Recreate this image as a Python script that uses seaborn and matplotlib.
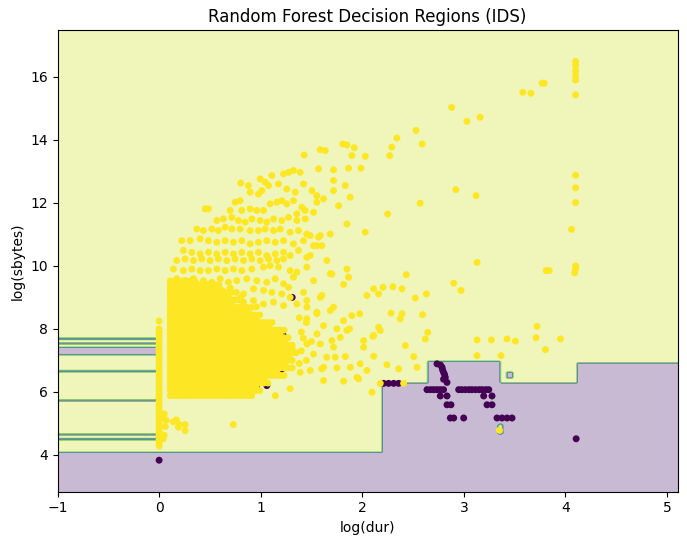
import numpy as np
import pandas as pd
import matplotlib
matplotlib.use("Agg")
import matplotlib.pyplot as plt
import seaborn as sns

# ---- data ----
# class 0 (attack) samples, dark purple
purple_pts = [
    (0.0, 3.83), (2.21, 6.27), (2.259, 6.27), (2.309, 6.27), (2.358, 6.27),
    (2.736, 6.89), (2.77, 6.85), (2.785, 6.78), (2.79, 6.7), (2.80, 6.62),
    (2.81, 6.55), (2.817, 6.46), (2.80, 6.40), (2.834, 6.30),
    (2.637, 6.07), (2.67, 6.07), (2.702, 6.07), (2.735, 6.07), (2.768, 6.07), (2.80, 6.07),
    (2.949, 6.07), (2.98, 6.07), (3.015, 6.07), (3.05, 6.07), (3.08, 6.07),
    (3.115, 6.07), (3.15, 6.07), (3.18, 6.07), (3.215, 6.07), (3.245, 6.07),
    (2.768, 5.87), (2.834, 5.87), (3.195, 5.87), (3.277, 5.87),
    (2.834, 5.59), (2.873, 5.59), (3.228, 5.59), (3.277, 5.59),
    (2.867, 5.17), (2.9, 5.17), (2.998, 5.17), (3.326, 5.17), (3.375, 5.17),
    (3.425, 5.17), (3.474, 5.17), (4.105, 4.51),
    (0.73, 7.79), (0.80, 7.79), (1.17, 7.82), (1.22, 7.8), (1.21, 6.73),
    (0.88, 6.2), (0.96, 6.2), (1.06, 6.2), (1.31, 9.0),
]

# class 1 (normal) samples, yellow
strip_y = [4.28, 4.38, 4.47, 4.56, 4.65, 4.74, 4.83, 4.92, 5.01, 5.1, 5.2, 5.3,
           5.4, 5.5, 5.6, 5.7, 5.8, 5.9, 6.0, 6.1, 6.2, 6.3, 6.4, 6.5, 6.6, 6.7,
           6.8, 6.9, 7.0, 7.1, 7.2, 7.3, 7.4, 7.5, 7.6, 7.7, 7.8, 7.9, 8.0, 8.25]

core_x = [0.11, 0.15, 0.19, 0.23, 0.27, 0.31, 0.35, 0.39, 0.43, 0.47, 0.51, 0.55,
          0.59, 0.63, 0.67, 0.71, 0.75, 0.79, 0.83, 0.87, 0.91, 0.95, 0.99, 1.03,
          1.07, 1.11, 1.15, 1.19, 1.23, 1.27, 1.31, 1.35]
core_row_y = [5.88, 6.04, 6.16, 6.28, 6.40, 6.52, 6.64, 6.76, 6.88, 7.00, 7.12,
              7.24, 7.36, 7.48, 7.60, 7.72, 7.84, 7.96, 8.08, 8.20, 8.32, 8.44,
              8.56, 8.68, 8.80, 8.92, 9.04, 9.16, 9.28, 9.40, 9.52]
core_row_end = [0.92, 1.0, 0.96, 1.10, 1.04, 1.24, 1.15, 1.31, 1.23, 1.33, 1.27,
                1.35, 1.31, 1.33, 1.23, 1.30, 1.19, 1.23, 1.07, 1.11, 0.95, 0.99,
                0.83, 0.91, 0.71, 0.79, 0.63, 0.71, 0.51, 0.59, 0.35]

near_zero_pts = [(0.04, 5.19), (0.07, 5.1), (0.14, 5.05), (0.17, 5.11), (0.2, 4.96),
                 (0.19, 4.88), (0.256, 4.96), (0.256, 4.77), (0.04, 4.51), (0.05, 4.62),
                 (0.06, 4.9), (0.73, 4.96), (0.05, 5.3)]

upper_pts = [
    (1.428, 13.52), (1.586, 13.69), (1.635, 13.66), (1.809, 13.87), (1.849, 13.84),
    (1.921, 13.75), (1.898, 13.50), (2.029, 13.48), (1.987, 13.10), (1.865, 13.10),
    (1.717, 13.05), (1.569, 13.08), (1.389, 12.97), (1.323, 13.03), (1.274, 12.97),
    (1.225, 12.92), (1.110, 12.87), (0.995, 12.76), (1.044, 12.66), (0.880, 12.55),
    (0.804, 12.63), (0.896, 12.34), (0.978, 12.28), (1.011, 12.39), (1.077, 12.55),
    (1.175, 12.60), (1.257, 12.44), (1.340, 12.34), (1.422, 12.60), (1.504, 12.39),
    (1.553, 12.23), (1.619, 12.13), (1.717, 12.71), (1.832, 12.55), (1.881, 12.18),
    (1.767, 11.91), (1.717, 12.39),
    (0.486, 11.81), (0.453, 11.81), (0.748, 12.02), (0.798, 12.07), (0.699, 11.76),
    (0.814, 11.76), (0.896, 11.81), (0.962, 11.76), (1.028, 11.76), (1.093, 11.97),
    (1.159, 12.02), (1.208, 12.07), (1.257, 11.97), (1.323, 12.07), (1.405, 11.86),
    (1.438, 11.76), (1.356, 11.65), (1.520, 11.70), (1.553, 12.02),
    (0.568, 11.44), (0.634, 11.49), (0.716, 11.54), (0.781, 11.44), (0.847, 11.39),
    (0.913, 11.49), (0.995, 11.44), (1.060, 11.39), (1.126, 11.49), (1.208, 11.44),
    (1.274, 11.54), (1.356, 11.44), (1.438, 11.49),
    (0.371, 11.17), (0.436, 11.12), (0.519, 11.17), (0.584, 11.12), (0.650, 11.23),
    (0.716, 11.17), (0.798, 11.17), (0.896, 11.12), (0.978, 11.12), (1.044, 11.17),
    (1.126, 11.12), (1.192, 11.17), (1.290, 11.07), (1.372, 11.12), (1.454, 11.01),
    (1.569, 10.91), (1.684, 11.01), (1.849, 11.33), (2.029, 11.07),
    (0.223, 10.80), (0.305, 10.80), (0.404, 10.86), (0.486, 10.80), (0.568, 10.75),
    (0.650, 10.80), (0.732, 10.75), (0.814, 10.80), (0.896, 10.70), (0.978, 10.75),
    (1.060, 10.80), (1.143, 10.75), (1.225, 10.80), (1.323, 10.70), (1.422, 10.80),
    (1.520, 10.64), (1.602, 10.64),
    (0.239, 10.49), (0.322, 10.43), (0.404, 10.38), (0.486, 10.43), (0.568, 10.38),
    (0.650, 10.43), (0.732, 10.38), (0.814, 10.43), (0.896, 10.38), (0.978, 10.43),
    (1.060, 10.33), (1.143, 10.38), (1.225, 10.43), (1.290, 10.33), (1.372, 10.49),
    (1.487, 10.33),
    (0.174, 10.17), (0.256, 10.22), (0.338, 10.17), (0.420, 10.22), (0.502, 10.17),
    (0.584, 10.22), (0.666, 10.17), (0.748, 10.22), (0.831, 10.17), (0.913, 10.22),
    (0.995, 10.17), (1.077, 10.22), (1.159, 10.17), (1.225, 10.22),
    (0.141, 9.90), (0.239, 9.85), (0.322, 9.90), (0.404, 9.85), (0.486, 9.85),
    (0.568, 9.90), (0.650, 9.85), (0.732, 9.90), (0.814, 9.85), (0.913, 9.90),
    (1.028, 9.96), (1.093, 10.01), (1.175, 9.96), (1.290, 9.85), (1.323, 9.64),
    (1.454, 9.96),
    (0.174, 9.59), (0.256, 9.53), (0.338, 9.59), (0.436, 9.53), (0.519, 9.48),
    (0.601, 9.59), (0.683, 9.48), (0.765, 9.53), (0.863, 9.59), (0.962, 9.53),
    (1.060, 9.48), (1.143, 9.59), (1.225, 9.43), (1.274, 9.32), (1.422, 9.16),
    (0.831, 9.11), (0.929, 9.27), (1.028, 9.22), (1.110, 9.16), (1.208, 9.11),
    (1.290, 9.0), (1.356, 8.79), (1.454, 8.90),
    (0.831, 8.85), (0.929, 8.90), (1.028, 8.79), (1.126, 8.85), (1.225, 8.74),
    (0.56, 9.30), (0.62, 9.22), (0.70, 9.30), (0.76, 9.16), (0.68, 9.05),
    (0.80, 8.98), (0.88, 8.62), (0.96, 8.70), (0.50, 9.42),
]

mid_pts = [
    (1.455, 8.69), (1.554, 8.48), (1.685, 8.58), (1.816, 8.26), (1.619, 8.1),
    (1.75, 8.0), (1.554, 7.84), (1.849, 7.95), (1.455, 7.52), (1.586, 7.52),
    (1.717, 7.42), (1.52, 7.2), (1.65, 7.1), (1.619, 6.78), (1.488, 6.68),
    (1.389, 6.62), (1.619, 6.36), (1.29, 6.1), (1.143, 5.88),
    (1.4, 7.9), (1.42, 7.7), (1.4, 7.3), (1.45, 7.0), (1.38, 6.9), (1.5, 7.6),
    (1.45, 8.2), (1.38, 8.35),
    (2.433, 9.72), (2.9, 9.45), (2.972, 9.22), (1.849, 9.9), (1.865, 9.64),
    (1.816, 9.41), (1.652, 10.17), (1.685, 9.75), (1.52, 9.53), (1.586, 9.0),
    (1.717, 8.69), (2.112, 9.27), (2.204, 9.32), (2.302, 9.34), (2.391, 9.27),
    (2.161, 9.11), (2.046, 9.06), (2.522, 8.98), (2.631, 9.11), (1.898, 8.42),
    (1.974, 8.48), (2.283, 8.5), (2.391, 8.48), (2.594, 8.45), (2.374, 8.32),
    (2.161, 8.05), (2.177, 7.95), (1.875, 8.0), (2.105, 7.76), (2.644, 7.89),
    (1.948, 6.46), (1.6, 6.73), (3.13, 10.11), (2.25, 11.65),
    (1.783, 7.73), (2.013, 7.63), (2.112, 7.79), (2.424, 7.47), (2.621, 7.68),
    (3.13, 7.65), (3.271, 7.65), (3.425, 7.68), (3.507, 7.61), (3.951, 7.68),
    (3.803, 7.34), (3.13, 7.15), (3.366, 7.15), (2.506, 7.12), (2.358, 6.73),
    (2.243, 6.86), (2.112, 7.13), (2.013, 7.42), (1.833, 7.12), (1.734, 7.1),
    (1.75, 6.76), (1.882, 6.78), (1.98, 6.89), (2.046, 6.68), (1.964, 6.41),
    (1.816, 6.34), (2.095, 5.99), (2.177, 6.27), (2.407, 6.27), (2.539, 6.78),
    (1.701, 7.63),
    (1.487, 10.96), (1.586, 10.96), (1.553, 10.64), (1.454, 10.27), (1.356, 9.80),
    (1.701, 9.74), (1.602, 9.06), (1.553, 8.53), (1.454, 8.32),
]

far_pts = [
    (4.10, 16.49), (4.10, 16.36), (4.10, 16.2), (4.10, 16.04), (4.10, 15.9),
    (4.10, 15.43), (3.79, 15.8), (3.77, 15.8), (3.66, 15.48), (3.58, 15.51),
    (2.88, 15.03), (3.03, 14.59), (3.16, 14.72), (2.92, 12.42), (3.12, 12.23),
    (4.10, 12.88), (4.10, 12.48), (4.10, 12.01), (4.06, 11.16), (2.57, 11.99),
    (2.53, 14.30), (2.34, 14.06), (2.59, 13.87), (2.29, 13.77), (2.27, 13.5),
    (3.81, 9.85), (3.84, 9.85), (4.10, 10.0), (4.10, 9.9), (4.09, 9.78),
    (3.72, 8.08), (3.71, 7.72), (3.35, 4.78),
]

# decision regions of the fitted forest (read from the shaded areas)
bound_x = [2.2, 2.65, 3.35, 4.115]          # x where the lower class-0 boundary steps
bound_y = [4.08, 6.27, 6.97, 6.27, 6.94]    # class-0 below these heights
stripe_end = 0.0                              # class-0 slivers only left of x = 0
thin_stripes = [7.66, 7.54, 6.64, 5.70, 4.63, 4.50]
wide_stripes = [(7.18, 7.40)]
islands = [(3.43, 3.49, 6.45, 6.62, 0), (3.33, 3.38, 4.65, 4.95, 1)]

# ---- assemble samples ----
yellow = list(zip([0.0] * len(strip_y), strip_y))
for ry, rend in zip(core_row_y, core_row_end):
    yellow += [(cx, ry) for cx in core_x if cx <= rend]
yellow += near_zero_pts + upper_pts + mid_pts + far_pts

df = pd.DataFrame(purple_pts + yellow, columns=["dur", "sbytes"])
df["label"] = [0] * len(purple_pts) + [1] * len(yellow)

x_min, x_max = df["dur"].min() - 1, df["dur"].max() + 1
y_min, y_max = df["sbytes"].min() - 1, df["sbytes"].max() + 1
gx = np.linspace(x_min, x_max, 300)
gy = np.linspace(y_min, y_max, 300)
xx, yy = np.meshgrid(gx, gy)

level = np.array(bound_y)[np.digitize(xx, bound_x)]
Z = (yy >= level).astype(int)
left = gx < stripe_end
for c in thin_stripes:
    Z[np.argmin(np.abs(gy - c)), left] = 0
for lo, hi in wide_stripes:
    Z[np.ix_((gy >= lo) & (gy <= hi), left)] = 0
for x0, x1, y0, y1, c in islands:
    Z[(xx >= x0) & (xx <= x1) & (yy >= y0) & (yy <= y1)] = c

# ---- plot ----
fig = plt.figure(figsize=(6.87, 5.45), dpi=100)
ax = fig.add_axes([0.0837, 0.0978, 0.9028, 0.8472])

ax.contourf(xx, yy, Z, alpha=0.3, cmap="viridis")
sns.scatterplot(data=df, x="dur", y="sbytes", hue="label",
                palette={0: "#440154", 1: "#fde725"}, s=25, linewidth=0,
                legend=False, ax=ax)

ax.set_xlim(x_min, x_max)
ax.set_ylim(y_min, y_max)
ax.set_title("Random Forest Decision Regions (IDS)")
ax.set_xlabel("log(dur)")
ax.set_ylabel("log(sbytes)")

fig.savefig("out.png", dpi=100)
